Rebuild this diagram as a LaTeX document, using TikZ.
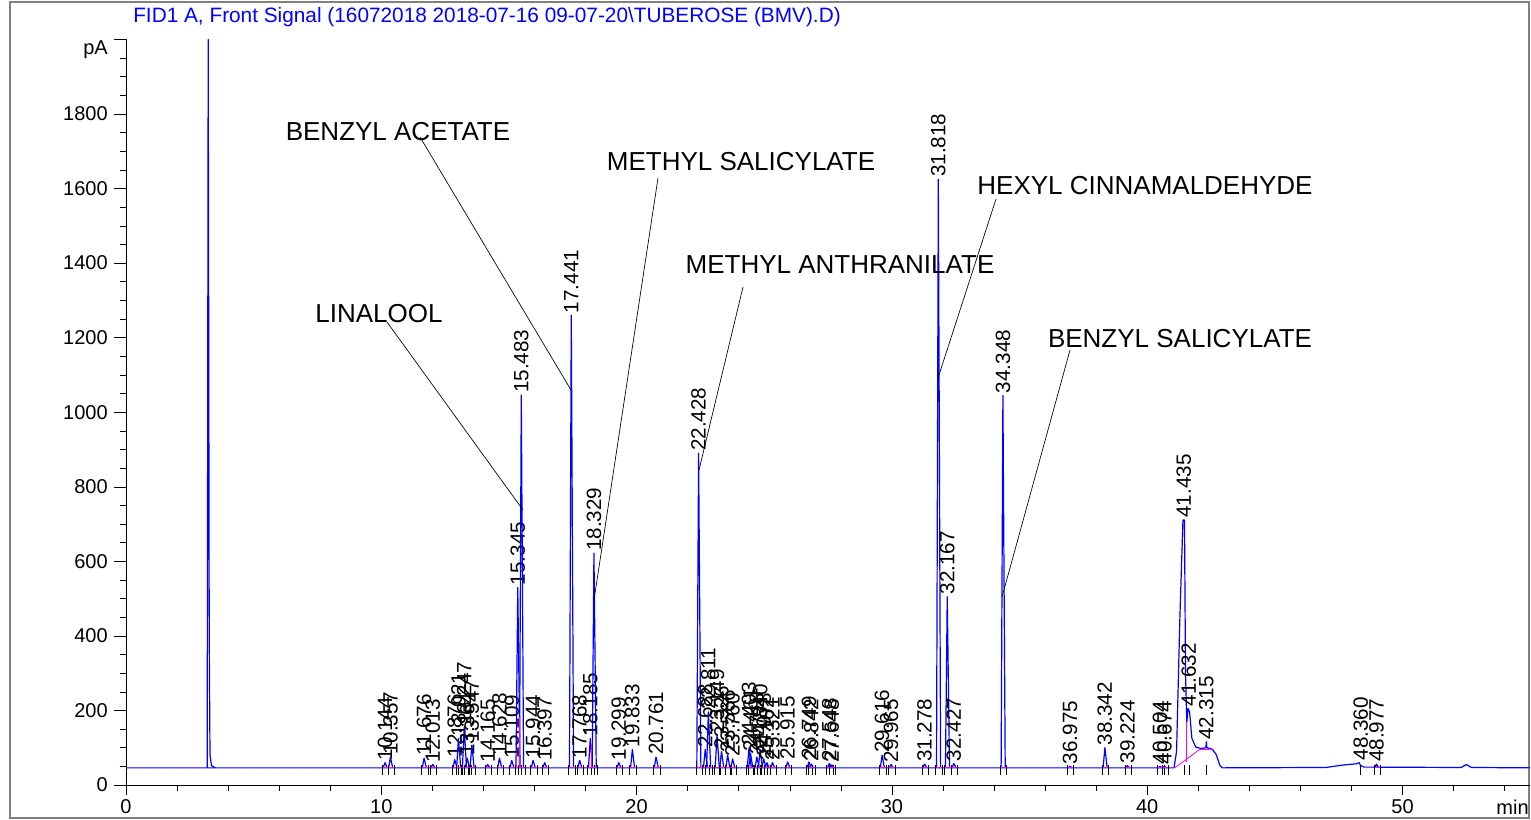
\documentclass[tikz,border=0pt]{standalone}
\usepackage{fontspec}
\setmainfont{Liberation Sans}
\definecolor{sigblue}{RGB}{0,0,255}
\definecolor{basepink}{RGB}{255,0,255}
\colorlet{framegray}{black!50}

\tikzset{
  trace/.style={sigblue, line width=0.9pt, line join=round},
  pklbl/.style={rotate=90, anchor=west, inner sep=1.5pt, font=\fontsize{15.5}{15.5}\selectfont},
  cmpd/.style={inner sep=0pt, font=\fontsize{19.5}{19.5}\selectfont},
  callout/.style={black, line width=0.5pt},
  ticklbl/.style={inner sep=0pt, font=\fontsize{15}{15}\selectfont},
  intmark/.style={black, line width=0.5pt},
  bline/.style={basepink, line width=0.6pt}
}

\begin{document}
\begin{tikzpicture}[x=0.75pt, y=-0.75pt]
\useasboundingbox (0,0) rectangle (1531,820);
\draw[framegray, line width=1.5pt] (10,2) rectangle (1529,818);
\node[inner sep=0pt, anchor=west, text=sigblue, font=\fontsize{15.6}{15.6}\selectfont] (title) at (133,17)
  {FID1 A, Front Signal (16072018 2018-07-16 09-07-20\textbackslash TUBEROSE (BMV).D)};

% signal in data units: min and pA
\begin{scope}[shift={(126,785)}, x=19.1475pt, y=0.27959pt]
% axes
\draw (0,0) -- (55,0);
\draw (0,0) -- (0,2000);
\foreach \v in {50,100,...,2000} \draw (0,\v) -- ++(-4.5pt,0);
\foreach \v in {0,200,...,1800} {
  \draw (0,\v) -- ++(-9pt,0);
  \node[ticklbl, anchor=east] (ylbl\v) at ([xshift=-13.5pt]0,\v) {\v};
}
\draw (0,2000) -- ++(-9pt,0);
\node[ticklbl, anchor=east] (yunit) at ([xshift=-13.5pt]0,1972) {pA};
\foreach \m in {2,4,...,54} \draw (\m,0) -- ++(0,-4.5pt);
\foreach \m in {0,10,...,50} {
  \draw (\m,0) -- ++(0,-7.5pt);
  \node[ticklbl, anchor=north] (xlbl\m) at ([yshift=-11pt]\m,0) {\m};
}
\node[ticklbl, anchor=north east] (xunit) at ([yshift=-11pt]54.95,0) {min};

% baseline with the broad humps
\draw[trace] (0,46) -- (41.05,46) -- (41.15,90) -- (41.28,450) -- (41.4,711) -- (41.46,711)
  -- (41.5,300) -- (41.55,168) -- (41.6,205) -- (41.66,196) -- (41.75,125) -- (41.9,102)
  -- (42.1,98) -- (42.3,100) -- (42.315,116) -- (42.34,100) -- (42.55,96) -- (42.7,82)
  -- (42.85,52) -- (42.95,46) -- (47.0,47) -- (47.6,53) -- (48.2,57) -- (48.3,60)
  -- (48.36,52) -- (48.5,48) -- (52.3,47) -- (52.5,55) -- (52.7,47) -- (55,46);
% solvent
\draw[trace] (3.18,46) -- (3.22,2000) -- (3.26,400) -- (3.29,80) -- (3.35,52) -- (3.5,46);

% peaks: time/height
\foreach \t/\h [count=\k] in {10.144/60, 10.357/75, 11.676/72, 12.013/55, 12.876/68,
    13.021/125, 13.247/155, 13.364/72, 13.547/107, 14.165/55, 14.628/72, 15.109/66,
    15.345/530, 15.483/1046, 15.944/66, 16.397/60, 17.441/1260, 17.768/66, 18.185/125,
    18.329/622, 19.299/60, 19.833/95, 20.761/75, 22.428/890, 22.688/95, 22.811/196,
    23.149/135, 23.326/90, 23.566/80, 23.760/70, 24.403/100, 24.461/85, 24.710/75,
    24.840/95, 24.978/70, 25.102/60, 25.321/60, 25.915/62, 26.749/62, 26.842/56,
    27.548/58, 27.648/54, 29.616/80, 29.965/55, 31.278/56, 31.818/1625, 32.167/505,
    32.427/58, 34.348/1045, 36.975/50, 38.342/100, 39.224/52, 40.504/50, 40.674/50,
    48.977/56} {
  \draw[trace] (\t-0.07,46) -- (\t,\h) -- (\t+0.09,46);
  \draw[bline] (\t-0.1,46) -- (\t+0.15,46);
  \draw[intmark] (\t-0.1,46) ++(0,2pt) -- ++(0,-7.5pt);
  \draw[intmark] (\t+0.15,46) ++(0,2pt) -- ++(0,-7.5pt);
  \node[pklbl] (pk\k) at (\t,\h) {\t};
}
\foreach \t/\h [count=\k from 60] in {41.435/711, 41.632/205, 42.315/116, 48.360/60} {
  \draw[intmark] (\t,46) ++(0,2pt) -- ++(0,-7.5pt);
  \node[pklbl] (pk\k) at (\t,\h) {\t};
}
\draw[bline] (41.08,46) -- (42.05,95) -- (42.6,96);
\draw[bline] (41.53,62) -- (41.53,168);
\draw[bline] (15.40,46) -- (15.40,182);
\draw[bline] (18.23,46) -- (18.23,110);
\end{scope}

% compound names
\node[cmpd] (linalool) at (379,314) {LINALOOL};
\node[cmpd] (benzac) at (398,132) {BENZYL ACETATE};
\node[cmpd] (mesal) at (741,162) {METHYL SALICYLATE};
\node[cmpd] (meanth) at (840,265) {METHYL ANTHRANILATE};
\node[cmpd] (hexcin) at (1145,186) {HEXYL CINNAMALDEHYDE};
\node[cmpd] (bzsal) at (1180,339) {BENZYL SALICYLATE};

\coordinate (linalool-a) at (387,322);
\coordinate (linalool-b) at (523,510);
\coordinate (benzac-a) at (420,137);
\coordinate (benzac-b) at (571,390);
\coordinate (mesal-a) at (658,178);
\coordinate (mesal-b) at (594,600);
\coordinate (meanth-a) at (743,287);
\coordinate (meanth-b) at (699,470);
\coordinate (hexcin-a) at (996,199);
\coordinate (hexcin-b) at (938,378);
\coordinate (bzsal-a) at (1070,350);
\coordinate (bzsal-b) at (1002,597);

\draw[callout] (linalool-a) -- (linalool-b);
\draw[callout] (benzac-a) -- (benzac-b);
\draw[callout] (mesal-a) -- (mesal-b);
\draw[callout] (meanth-a) -- (meanth-b);
\draw[callout] (hexcin-a) -- (hexcin-b);
\draw[callout] (bzsal-a) -- (bzsal-b);
\end{tikzpicture}
\end{document}
